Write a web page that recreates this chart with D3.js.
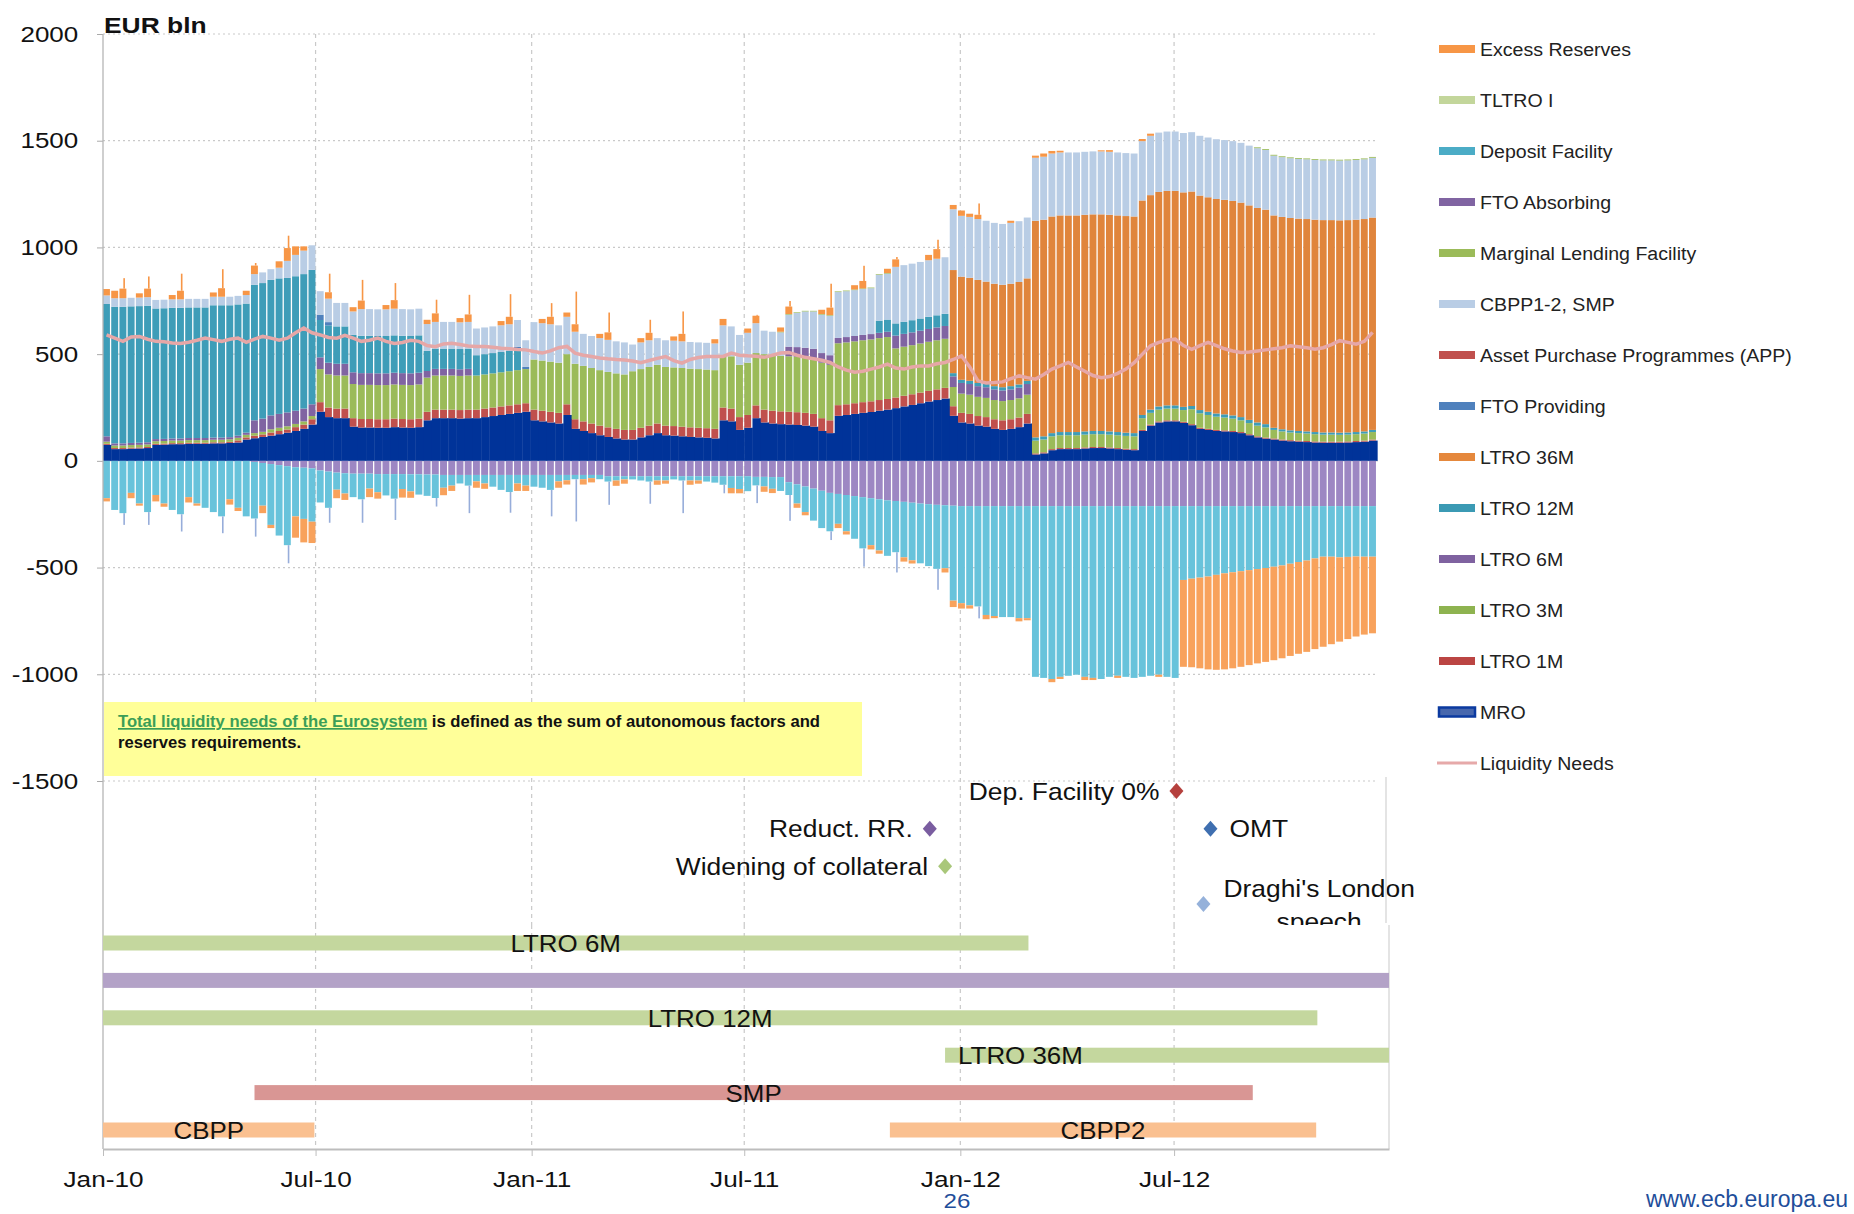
<!DOCTYPE html>
<html>
<head>
<meta charset="utf-8">
<script src="https://cdn.jsdelivr.net/npm/d3@7"></script>
<style>
  body { margin: 0; background: #fff; }
  svg { display: block; font-family: "Liberation Sans", Arial, sans-serif; }
</style>
</head>
<body>
<svg id="chart" width="1854" height="1214"></svg>
<script>
// ---- weekly values, EUR bln (weeks starting 1 Jan 2010) ----
const mro = [
  75,55,55,57,58,60,75,76,78,78,
  80,80,80,82,82,84,86,100,106,112,
  118,125,132,140,150,170,230,205,200,200,
  160,156,156,155,155,158,156,155,158,190,
  200,200,200,198,200,200,205,210,215,220,
  225,230,190,185,180,175,215,150,140,130,
  120,112,105,100,100,110,120,130,120,118,
  115,112,110,108,105,190,185,145,155,200,
  180,175,172,170,168,165,160,140,130,211,
  215,220,225,229,235,240,247,255,262,270,
  278,285,292,211,180,175,165,160,150,145,
  150,158,175,30,35,50,55,55,55,58,
  60,60,58,55,52,50,140,165,180,185,
  185,178,167,150,145,140,138,135,130,120,
  110,104,100,95,92,90,88,86,85,85,
  85,86,88,90,95];
const ltro1m = [
  5,5,5,5,5,5,5,5,5,5,
  5,5,5,5,5,5,10,10,12,12,
  15,15,15,18,20,25,45,45,45,45,
  40,40,40,40,40,40,40,40,40,40,
  40,40,40,40,40,40,40,40,40,40,
  40,40,50,50,50,50,50,45,45,45,
  45,45,45,45,45,45,45,45,45,45,
  45,45,45,45,45,60,60,60,60,60,
  60,60,60,60,60,60,60,60,60,50,
  50,50,50,50,50,50,50,50,50,50,
  50,50,50,45,45,45,45,45,45,45,
  45,45,45,5,5,5,5,5,5,5,
  5,5,5,5,5,5,5,5,5,5,
  5,5,5,5,5,5,5,5,5,5,
  5,5,5,5,5,5,5,5,5,5,
  5,5,5,5,5];
const ltro3m = [
  10,12,12,12,12,12,12,12,12,12,
  12,12,12,12,12,12,12,12,12,12,
  15,15,15,15,15,15,155,155,155,155,
  160,160,160,160,160,160,160,160,160,160,
  160,160,160,160,160,160,160,160,160,160,
  160,160,235,235,235,235,235,260,260,260,
  260,260,260,260,275,275,275,275,275,275,
  275,275,275,275,275,245,245,245,245,245,
  260,260,260,260,260,260,260,260,260,290,
  290,290,290,290,290,290,230,230,230,230,
  230,230,230,90,90,90,90,90,90,90,
  90,90,90,60,60,60,60,60,60,60,
  60,60,60,60,60,60,55,55,55,55,
  55,55,70,68,65,62,60,58,55,52,
  50,48,40,38,36,35,35,34,33,33,
  32,32,32,33,35];
const ltro6m = [
  25,10,10,10,10,10,10,10,10,10,
  10,10,10,10,10,10,10,10,60,62,
  65,65,65,62,60,55,55,55,55,55,
  55,55,55,55,55,55,55,55,55,31,
  31,31,31,31,31,0,0,0,0,0,
  0,0,0,0,0,0,0,0,0,0,
  0,0,0,0,0,0,0,0,0,0,
  0,0,0,0,0,0,0,0,0,0,
  0,0,0,45,45,45,45,45,45,25,
  25,25,25,25,25,25,60,60,60,60,
  60,60,60,50,50,50,50,50,50,50,
  50,50,50,0,0,0,0,0,0,0,
  0,0,0,0,0,0,0,0,0,0,
  0,0,0,0,0,0,0,0,0,0,
  0,0,0,0,0,0,0,0,0,0,
  0,0,0,0,0];
const ltro12m = [
  620,640,640,640,640,640,612,612,612,612,
  612,612,612,620,620,618,615,605,635,635,
  635,635,630,630,630,630,175,175,175,175,
  175,175,175,175,175,175,175,175,175,95,
  95,95,95,95,95,95,95,95,95,95,
  95,0,0,0,0,0,0,0,0,0,
  0,0,0,0,0,0,0,0,0,0,
  0,0,0,0,0,0,0,0,0,0,
  0,0,0,0,0,0,0,0,0,0,
  0,0,0,0,57,57,57,57,57,57,
  57,57,57,15,15,15,15,15,15,15,
  15,15,15,15,15,15,15,15,15,15,
  15,15,15,15,15,15,15,15,15,15,
  15,15,15,15,15,15,15,15,15,15,
  15,15,10,10,10,10,10,10,10,10,
  10,10,10,10,10];
const ltro36m = [
  0,0,0,0,0,0,0,0,0,0,
  0,0,0,0,0,0,0,0,0,0,
  0,0,0,0,0,0,0,0,0,0,
  0,0,0,0,0,0,0,0,0,0,
  0,0,0,0,0,0,0,0,0,0,
  0,0,0,0,0,0,0,0,0,0,
  0,0,0,0,0,0,0,0,0,0,
  0,0,0,0,0,0,0,0,0,0,
  0,0,0,0,0,0,0,0,0,0,
  0,0,0,0,0,0,0,0,0,0,
  0,0,0,483,483,483,483,480,480,480,
  480,480,480,1015,1015,1015,1015,1015,1015,1015,
  1015,1015,1015,1015,1015,1015,1005,1005,1005,1005,
  1005,1005,1005,1005,1005,1005,1005,1005,1005,1005,
  1005,1005,995,995,995,995,995,995,995,995,
  995,995,995,995,995];
const ftoProviding = [
  0,0,0,0,0,0,0,0,0,0,
  0,0,0,0,0,0,0,0,0,0,
  0,0,0,0,0,0,25,15,0,0,
  0,0,0,0,0,0,0,0,0,0,
  0,0,0,0,0,0,0,0,0,0,
  15,10,0,0,0,0,0,0,0,0,
  0,0,0,0,0,0,0,0,0,0,
  0,0,0,0,0,0,0,0,0,0,
  0,0,0,0,0,0,0,0,0,0,
  0,0,0,0,0,0,0,0,0,0,
  0,0,0,0,0,0,0,0,0,0,
  0,0,0,0,0,0,0,0,0,0,
  0,0,0,0,0,0,0,0,0,0,
  0,0,0,0,0,0,0,0,0,0,
  0,0,0,0,0,0,0,0,0,0,
  0,0,0,0,0];
const cbppSmp = [
  40,40,40,40,40,40,40,40,40,40,
  40,40,40,40,40,40,40,40,50,50,
  50,50,80,100,110,115,110,110,110,110,
  110,125,125,125,125,125,125,125,125,125,
  125,125,125,125,125,125,125,125,125,125,
  125,125,175,175,175,175,175,150,150,150,
  150,150,150,150,125,125,125,125,125,125,
  125,125,125,125,125,140,140,140,140,140,
  110,110,110,150,160,170,175,180,185,215,
  215,215,215,215,215,215,265,265,265,265,
  265,265,265,285,285,285,285,285,285,285,
  285,285,285,295,295,295,295,295,295,295,
  295,295,295,295,295,295,278,278,278,278,
  278,278,278,280,280,280,280,280,280,280,
  280,280,280,280,280,280,280,280,280,280,
  280,280,280,280,280];
const marginalLending = [
  0,0,0,0,0,0,0,0,0,0,
  0,0,0,0,0,0,0,0,0,0,
  0,0,0,0,0,0,0,0,0,0,
  0,0,0,0,0,0,0,0,0,0,
  0,0,0,0,0,0,0,0,0,0,
  0,0,0,0,0,0,0,0,0,0,
  0,0,0,0,0,0,0,0,0,0,
  0,0,0,0,0,0,0,0,0,0,
  0,0,3,3,3,3,3,3,3,3,
  3,3,3,3,3,3,0,0,0,0,
  0,0,0,0,0,0,0,0,0,0,
  0,0,0,0,0,0,0,0,0,0,
  0,0,0,0,0,0,0,0,0,0,
  0,0,0,0,0,0,0,0,0,0,
  4,4,4,4,4,4,4,4,4,4,
  4,4,4,4,4];
const excessAbove = [
  30,35,45,0,20,40,0,0,20,40,
  0,0,0,20,40,0,0,20,40,0,
  0,30,60,40,20,0,0,30,0,0,
  20,40,0,0,20,40,0,0,0,20,
  40,0,0,20,35,0,0,0,20,35,
  0,0,0,20,35,0,20,35,0,0,
  20,35,0,0,0,20,35,0,0,20,
  35,0,0,0,20,30,0,0,20,35,
  0,0,20,35,0,0,0,20,35,0,
  0,20,35,0,0,20,35,0,0,0,
  25,45,0,20,25,15,20,0,0,0,
  10,0,0,10,15,12,8,0,0,0,
  0,5,8,0,0,0,10,10,0,0,
  0,0,0,0,0,0,0,0,0,0,
  0,0,0,0,0,0,0,0,0,0,
  0,0,0,0,0];
// absorbing side (shown below zero)
const ftoAbsorbing = [
  0,0,0,0,0,0,0,0,0,0,
  0,0,0,0,0,0,0,0,5,10,
  15,20,25,30,32,35,45,50,55,58,
  60,60,60,62,62,62,62,63,63,64,
  64,66,66,66,66,66,66,66,66,66,
  66,66,66,66,66,66,66,66,66,66,
  66,72,72,72,72,72,72,72,72,72,
  72,72,72,72,72,72,72,72,72,75,
  75,76,76,100,110,120,130,140,150,155,
  160,165,170,175,180,185,188,192,196,200,
  203,206,208,210,212,212,212,212,212,212,
  212,212,212,212,212,212,212,212,212,212,
  212,212,212,212,212,212,212,212,212,212,
  212,212,212,212,212,212,212,212,212,212,
  212,212,212,212,212,212,212,212,212,212,
  212,212,212,212,212];
const depositFacility = [
  175,230,245,150,200,240,160,200,230,250,
  170,200,220,240,260,180,220,260,265,200,
  285,330,370,230,240,250,150,170,80,95,
  110,120,70,85,100,115,70,80,95,100,
  110,60,50,40,50,30,40,55,70,80,
  40,50,55,60,70,30,25,20,20,15,
  20,25,20,15,15,20,25,20,20,15,
  20,20,20,25,30,40,55,60,70,40,
  45,55,65,60,90,120,150,175,180,140,
  170,200,240,220,240,260,240,260,270,280,
  290,300,295,445,455,465,470,510,515,520,
  520,525,525,800,805,810,800,795,790,800,
  805,810,800,795,800,805,800,795,790,800,
  805,346,340,335,330,322,315,310,305,300,
  295,290,284,278,270,262,255,245,237,237,
  240,238,236,237,237];
const excessBelow = [
  15,0,0,25,10,0,30,15,0,0,
  25,10,0,0,0,25,15,0,0,35,
  15,0,0,100,110,100,0,0,40,30,
  0,0,40,30,0,0,40,30,0,0,
  0,35,25,0,0,30,25,0,0,0,
  35,25,0,0,0,30,20,0,25,20,
  0,0,25,20,0,0,0,20,15,0,
  0,20,15,0,0,0,25,20,0,0,
  25,20,0,0,20,15,0,0,0,20,
  15,0,0,20,15,0,0,20,15,0,
  0,0,20,30,25,15,0,20,10,0,
  0,15,10,0,0,15,10,0,0,15,
  10,0,0,10,0,0,0,0,10,0,
  0,407,415,425,435,445,450,450,448,445,
  442,440,438,435,432,430,428,425,422,410,
  395,385,375,365,359];
const liquidityNeeds = [
  590,575,560,580,583,570,560,558,552,550,
  556,565,575,568,560,570,575,555,570,583,
  575,565,575,600,622,600,590,578,575,588,
  575,560,565,575,560,550,555,565,560,540,
  535,548,551,545,538,536,536,532,528,525,
  522,520,512,505,515,530,536,505,495,489,
  482,478,475,473,468,460,470,480,489,470,
  458,475,484,489,489,489,505,495,492,490,
  485,495,505,508,495,485,478,471,461,440,
  425,415,420,430,440,453,435,430,440,445,
  445,455,461,475,492,440,375,365,367,370,
  385,398,390,383,405,430,445,461,440,420,
  400,390,395,410,430,460,500,539,555,565,
  570,540,523,540,555,540,525,515,508,510,
  515,520,525,530,539,535,530,523,530,545,
  563,555,547,560,602];

// end-of-maintenance-period spikes
const spikeDates = ["2010-01-19","2010-02-09","2010-03-09","2010-04-13","2010-05-11","2010-06-08",
  "2010-07-13","2010-08-10","2010-09-07","2010-10-12","2010-11-09","2010-12-14","2011-01-18",
  "2011-02-08","2011-03-08","2011-04-12","2011-05-10","2011-06-14","2011-07-12","2011-08-09",
  "2011-09-13","2011-10-11","2011-11-08","2011-12-13","2012-01-17"];
const spikeTop = [856,864,877,898,927,1055,877,848,833,755,778,781,739,793,695,661,700,633,684,749,830,914,955,1036,1206];
const spikeBottom = [-300,-300,-331,-339,-355,-480,-290,-290,-277,-214,-245,-243,-260,-284,-206,-201,-245,-152,-198,-281,-371,-496,-523,-604,-738];

const yTicks = [-1500, -1000, -500, 0, 500, 1000, 1500, 2000];
const xTickDates = ["2010-01-01","2010-07-01","2011-01-01","2011-07-01","2012-01-01","2012-07-01"];

// legend
const legendLabels = ["Excess Reserves","TLTRO I","Deposit Facility","FTO Absorbing","Marginal Lending Facility",
  "CBPP1-2, SMP","Asset Purchase Programmes (APP)","FTO Providing","LTRO 36M","LTRO 12M","LTRO 6M",
  "LTRO 3M","LTRO 1M","MRO","Liquidity Needs"];

// timeline of programmes
const progIds = ["ltro6m","frfa","ltro12m","ltro36m","smp","cbpp","cbpp2"];
const progLabels = ["LTRO 6M","","LTRO 12M","LTRO 36M","SMP","CBPP","CBPP2"];
const progStart = ["2010-01-01","2010-01-01","2010-01-01","2011-12-19","2010-05-10","2010-01-01","2011-11-02"];
const progEnd = ["2012-02-28","2012-12-31","2012-10-31","2012-12-31","2012-09-06","2010-06-30","2012-10-30"];
const progLane = [0,1,2,3,4,5,5];

// policy events
const eventLabels = ["Dep. Facility 0%","Reduct. RR.","OMT","Widening of collateral","Draghi's London"];
const eventDates = ["2012-07-03","2011-12-06","2012-08-01","2011-12-19","2012-07-26"];
const eventLane = [0,1,1,2,3];

// ---------------- drawing ----------------
const svg = d3.select("#chart");
const parse = d3.timeParse("%Y-%m-%d");
const start = new Date(2010, 0, 1);
const weeks = mro.map((v, i) => d3.timeDay.offset(start, 7 * i));

const plotLeft = 103, plotRight = 1378, axisBottomY = 1149;
const x = d3.scaleTime().domain([start, new Date(2012, 11, 31)]).range([plotLeft, 1389]);
const y = d3.scaleLinear().domain([-1500, 2000]).range([781, 34]);

const series = {
  mro: mro, ltro1m: ltro1m, ltro3m: ltro3m, ltro6m: ltro6m, ltro12m: ltro12m, ltro36m: ltro36m,
  ftoProv: ftoProviding, cbpp: cbppSmp, mlf: marginalLending, excPos: excessAbove,
  ftoAbs: ftoAbsorbing, deposit: depositFacility, excNeg: excessBelow
};
const posKeys = ["mro","ltro1m","ltro3m","ltro6m","ltro12m","ltro36m","ftoProv","cbpp","mlf","excPos"];
const negKeys = ["ftoAbs","deposit","excNeg"];
const barColor = {
  mro: "#003399", ltro1m: "#C0504D", ltro3m: "#9BBB59", ltro6m: "#8064A2", ltro12m: "#3E9DB8",
  ltro36m: "#E0853C", ftoProv: "#4F81BD", cbpp: "#B9CDE5", mlf: "#9BBB59", excPos: "#F79646",
  ftoAbs: "#9D87C3", deposit: "#68C3DB", excNeg: "#F8A25C"
};

const table = weeks.map((d, i) => {
  const r = { date: d };
  posKeys.forEach(k => r[k] = series[k][i]);
  negKeys.forEach(k => r[k] = -series[k][i]);
  return r;
});
const stacked = d3.stack().keys(posKeys.concat(negKeys)).offset(d3.stackOffsetDiverging)(table);

function stretchedText(g, px, py, str, size, sx, anchor) {
  return g.append("text")
    .attr("transform", `translate(${px},${py}) scale(${sx},1)`)
    .attr("text-anchor", anchor)
    .attr("font-size", size)
    .attr("fill", "#111")
    .text(str);
}

// gridlines
const grid = svg.append("g");
grid.selectAll("line.h").data(yTicks.filter(v => v !== 0)).join("line")
  .attr("x1", plotLeft).attr("x2", plotRight)
  .attr("y1", d => y(d)).attr("y2", d => y(d))
  .attr("stroke", "#c9c9c9").attr("stroke-width", 1.2).attr("stroke-dasharray", "2,3");
const vGridDates = xTickDates.slice(1).map(parse);
grid.selectAll("line.v").data(vGridDates).join("line")
  .attr("x1", d => x(d)).attr("x2", d => x(d))
  .attr("y1", y(2000)).attr("y2", 925)
  .attr("stroke", "#c9c9c9").attr("stroke-width", 1.2).attr("stroke-dasharray", "4,4");
grid.append("line").attr("x1", plotLeft).attr("x2", plotRight).attr("y1", y(0)).attr("y2", y(0))
  .attr("stroke", "#bbb");

// stacked weekly bars
const bars = svg.append("g");
stacked.forEach(layer => {
  const key = layer.key;
  bars.append("g").attr("fill", barColor[key])
    .selectAll("rect").data(layer.filter(d => d[1] !== d[0])).join("rect")
    .attr("x", d => x(d.data.date))
    .attr("width", d => {
      const w = x(d3.timeDay.offset(d.data.date, 7)) - x(d.data.date);
      return key === "mro" ? w + 0.4 : w - 1.3;
    })
    .attr("y", d => y(Math.max(d[0], d[1])))
    .attr("height", d => Math.abs(y(d[0]) - y(d[1])));
});

// maintenance period spikes
const posTotal = table.map(r => d3.sum(posKeys, k => r[k]));
const negTotal = table.map(r => d3.sum(negKeys, k => r[k]));
const spikes = svg.append("g");
spikeDates.forEach((s, k) => {
  const d = parse(s);
  const i = Math.floor(d3.timeDay.count(start, d) / 7);
  if (spikeTop[k] > posTotal[i]) {
    spikes.append("rect").attr("x", x(d) - 0.8).attr("width", 1.6)
      .attr("y", y(spikeTop[k])).attr("height", y(posTotal[i]) - y(spikeTop[k]))
      .attr("fill", "#F79646");
  }
  if (spikeBottom[k] < negTotal[i]) {
    spikes.append("rect").attr("x", x(d) - 0.8).attr("width", 1.6)
      .attr("y", y(negTotal[i])).attr("height", y(spikeBottom[k]) - y(negTotal[i]))
      .attr("fill", "#97ADDA");
  }
});

// liquidity needs line
const line = d3.line()
  .x((v, i) => x(d3.timeDay.offset(weeks[i], 3.5)))
  .y(v => y(v));
svg.append("path").datum(liquidityNeeds).attr("d", line)
  .attr("fill", "none").attr("stroke", "#E6A7A7").attr("stroke-width", 3.5);

// y axis
const yAxis = svg.append("g").attr("transform", `translate(${plotLeft},0)`)
  .call(d3.axisLeft(y).tickValues(yTicks).tickSize(6).tickPadding(15).tickFormat(d => String(d)));
yAxis.select(".domain").remove();
yAxis.selectAll(".tick line").attr("stroke", "#aaa");
yAxis.selectAll(".tick text").attr("font-size", 22).attr("fill", "#111")
  .attr("font-family", '"Liberation Sans", Arial, sans-serif')
  .attr("transform", "scale(1.18,1)");
svg.append("line").attr("x1", plotLeft).attr("x2", plotLeft).attr("y1", y(2000)).attr("y2", axisBottomY)
  .attr("stroke", "#b5b5b5").attr("stroke-width", 1.3);

stretchedText(svg, 104, 33, "EUR bln", 22, 1.2, "start").attr("font-weight", "bold");

// definition box
svg.append("rect").attr("x", 104).attr("y", 702).attr("width", 758).attr("height", 74).attr("fill", "#FFFF99");
const note = svg.append("text").attr("x", 118).attr("y", 727).attr("font-size", 17).attr("font-weight", "bold")
  .attr("textLength", 702).attr("lengthAdjust", "spacingAndGlyphs");
note.append("tspan").attr("fill", "#3B9E57").attr("text-decoration", "underline")
  .text("Total liquidity needs of the Eurosystem");
note.append("tspan").attr("fill", "#111").text(" is defined as the sum of autonomous  factors and");
svg.append("text").attr("x", 118).attr("y", 748).attr("font-size", 17).attr("font-weight", "bold")
  .attr("fill", "#111").attr("textLength", 183).attr("lengthAdjust", "spacingAndGlyphs")
  .text("reserves requirements.");

// events
const eventY = d3.scalePoint().domain([0, 1, 2, 3]).range([791, 904]);
const eventColor = { "Dep. Facility 0%": "#B5403D", "Reduct. RR.": "#7A5DA0", "OMT": "#3F6FB0",
  "Widening of collateral": "#A9C77A", "Draghi's London": "#95B1DA" };
const eventSide = { "Dep. Facility 0%": "left", "Reduct. RR.": "left", "OMT": "right",
  "Widening of collateral": "left", "Draghi's London": "right" };
const ev = svg.append("g");
eventLabels.forEach((lab, k) => {
  const ex = x(parse(eventDates[k])), ey = eventY(eventLane[k]);
  ev.append("path").attr("d", "M0,-8L7,0L0,8L-7,0Z")
    .attr("transform", `translate(${ex},${ey})`).attr("fill", eventColor[lab]);
  if (eventSide[lab] === "left") {
    stretchedText(ev, ex - 17, ey + 8.5, lab, 24, 1.1, "end");
  } else if (lab === "OMT") {
    stretchedText(ev, ex + 19, ey + 8.5, lab, 24, 1.1, "start");
  } else {
    const t = stretchedText(ev, ex + 20, ey - 7, lab, 24, 1.1, "start");
    const w = t.node().getComputedTextLength() * 1.1;
    stretchedText(ev, ex + 20 + w / 2, ey + 26, "speech", 24, 1.1, "middle");
  }
});
svg.append("line").attr("x1", 1386).attr("x2", 1386).attr("y1", 777).attr("y2", 923)
  .attr("stroke", "#d6d6d6").attr("stroke-width", 1.3);

// programme timeline panel
svg.append("rect").attr("x", plotLeft + 1).attr("y", 925).attr("width", 1389 - plotLeft - 1)
  .attr("height", axisBottomY - 925).attr("fill", "#fff");
svg.append("g").selectAll("line").data(vGridDates).join("line")
  .attr("x1", d => x(d)).attr("x2", d => x(d)).attr("y1", 925).attr("y2", axisBottomY)
  .attr("stroke", "#c9c9c9").attr("stroke-width", 1.2).attr("stroke-dasharray", "4,4");
svg.append("line").attr("x1", 1389).attr("x2", 1389).attr("y1", 925).attr("y2", axisBottomY)
  .attr("stroke", "#d6d6d6").attr("stroke-width", 1.3);

const lane = d3.scalePoint().domain(d3.range(6)).range([943, 1130]);
const progColor = { ltro6m: "#C4D79E", frfa: "#B3A2C7", ltro12m: "#C4D79E", ltro36m: "#C4D79E",
  smp: "#D99694", cbpp: "#FAC090", cbpp2: "#FAC090" };
const tl = svg.append("g");
progIds.forEach((id, k) => {
  const x0 = x(parse(progStart[k])), x1 = x(parse(progEnd[k])), ly = lane(progLane[k]);
  tl.append("rect").attr("x", x0).attr("y", ly - 7.5).attr("width", x1 - x0).attr("height", 15)
    .attr("fill", progColor[id]);
  if (progLabels[k]) {
    if (id === "ltro36m") stretchedText(tl, x0 + 13, ly + 9, progLabels[k], 24, 1.08, "start");
    else stretchedText(tl, (x0 + x1) / 2, ly + 9, progLabels[k], 24, 1.08, "middle");
  }
});

// x axis
const xAxis = svg.append("g").attr("transform", `translate(0,${axisBottomY})`)
  .call(d3.axisBottom(x).tickValues(xTickDates.map(parse)).tickSize(7).tickSizeOuter(0)
    .tickFormat(d3.timeFormat("%b-%y")));
xAxis.select(".domain").attr("stroke", "#bdbdbd").attr("stroke-width", 2);
xAxis.selectAll(".tick line").attr("stroke", "#bdbdbd");
xAxis.selectAll(".tick text").attr("font-size", 22).attr("fill", "#111")
  .attr("font-family", '"Liberation Sans", Arial, sans-serif')
  .attr("y", 38).attr("dy", null).attr("transform", "scale(1.19,1)");

// legend
const legColor = ["#F79646","#C3D69B","#4BACC6","#8064A2","#9BBB59","#B9CDE5","#C0504D","#4F81BD",
  "#E5883C","#3B9AB4","#7F62A0","#8EB350","#BB4543","#003399","#E6A9A9"];
const leg = svg.append("g");
const legY = d3.scalePoint().domain(d3.range(legendLabels.length)).range([49, 763]);
legendLabels.forEach((lab, k) => {
  const ly = legY(k);
  if (lab === "Liquidity Needs") {
    leg.append("line").attr("x1", 1437).attr("x2", 1477).attr("y1", ly).attr("y2", ly)
      .attr("stroke", legColor[k]).attr("stroke-width", 3);
  } else if (lab === "MRO") {
    leg.append("rect").attr("x", 1439).attr("y", ly - 4.5).attr("width", 36).attr("height", 9)
      .attr("fill", "#4767AD").attr("stroke", "#0B3AA0").attr("stroke-width", 2.5);
  } else {
    leg.append("rect").attr("x", 1439).attr("y", ly - 4).attr("width", 36).attr("height", 8)
      .attr("fill", legColor[k]);
  }
  stretchedText(leg, 1480, ly + 7, lab, 19, 1.03, "start").attr("fill", "#222");
});

// footer
stretchedText(svg, 957, 1208, "26", 21, 1.15, "middle").attr("fill", "#1F4E9A");
stretchedText(svg, 1848, 1207, "www.ecb.europa.eu", 23, 1.0, "end").attr("fill", "#1F4E9A");
</script>
</body>
</html>
